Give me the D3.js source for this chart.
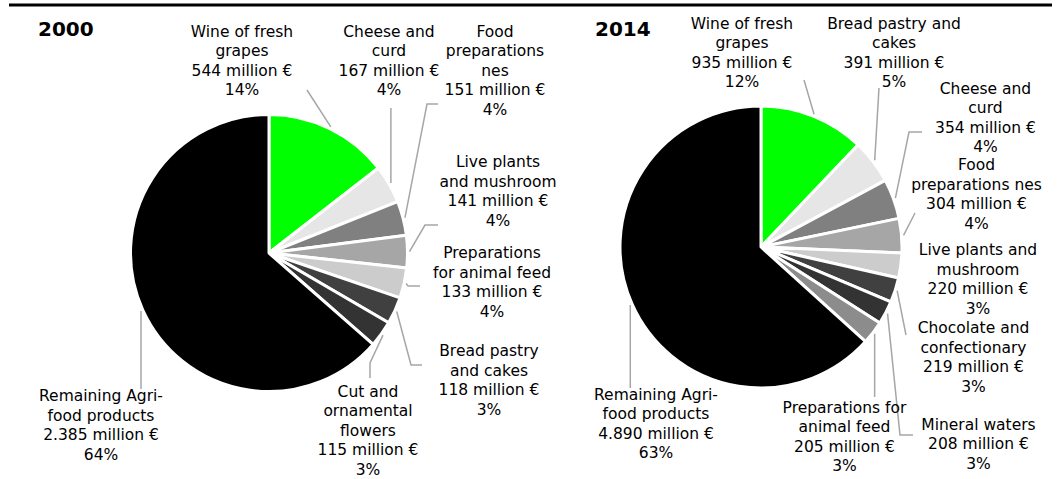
<!DOCTYPE html>
<html>
<head>
<meta charset="utf-8">
<script src="https://cdn.jsdelivr.net/npm/d3@7/dist/d3.min.js"></script>
<style>
  html, body { margin: 0; padding: 0; background: #fff; }
  svg { display: block; }
  text { font-family: Verdana, "DejaVu Sans", sans-serif; fill: #000; }
</style>
</head>
<body>
<svg id="chart" width="1060" height="479"></svg>
<script>
// ---------- DATA ----------
const years = ["2000", "2014"];

const categories2000 = [
  "Wine of fresh\ngrapes",
  "Cheese and\ncurd",
  "Food\npreparations\nnes",
  "Live plants\nand mushroom",
  "Preparations\nfor animal feed",
  "Bread pastry\nand cakes",
  "Cut and\nornamental\nflowers",
  "Remaining Agri-\nfood products"
];
const values2000 = [544, 167, 151, 141, 133, 118, 115, 2385];
const percents2000 = [14, 4, 4, 4, 4, 3, 3, 64];

const categories2014 = [
  "Wine of fresh\ngrapes",
  "Bread pastry and\ncakes",
  "Cheese and\ncurd",
  "Food\npreparations nes",
  "Live plants and\nmushroom",
  "Chocolate and\nconfectionary",
  "Mineral waters",
  "Preparations for\nanimal feed",
  "Remaining Agri-\nfood products"
];
const values2014 = [935, 391, 354, 304, 220, 219, 208, 205, 4890];
const percents2014 = [12, 5, 4, 4, 3, 3, 3, 3, 63];

// ---------- STYLE / LAYOUT ----------
const colors2000 = ["#00ff00", "#e6e6e6", "#808080", "#a6a6a6", "#cccccc", "#404040", "#333333", "#000000"];
const colors2014 = ["#00ff00", "#e6e6e6", "#808080", "#a6a6a6", "#cccccc", "#404040", "#333333", "#8c8c8c", "#000000"];

// label anchor: [centre x, first baseline]; leader: label-side points (null x = follow slice point)
const layout2000 = {
  cx: 269, cy: 253, r: 138.5, titleX: 38,
  labels: [[242, 36.5], [389, 36.5], [495, 36.5], [498, 167], [492, 258], [489, 356], [368, 396.5], [101, 401]],
  leaders: [
    [[307, 90]],
    [[null, 108]],
    [[438, 104], [427, 104]],
    [[438, 225], [425, 225]],
    [[420, 286], [408, 286]],
    [[422, 365], [411, 365]],
    [[370, 378], [370, 363]],
    [[null, 389]]
  ]
};
const layout2014 = {
  cx: 761, cy: 247, r: 141, titleX: 595,
  labels: [[742, 28.5], [894, 28.5], [985.5, 93.5], [976.5, 170], [978, 255], [973.5, 333], [978.5, 429.5], [844.5, 412.5], [656, 399.5]],
  leaders: [
    [[804, 80]],
    [[879, 88]],
    [[922, 132], [909, 132]],
    [[915, 213]],
    null,
    [[906, 335]],
    [[913, 435], [900, 435]],
    [[null, 397]],
    [[null, 388]]
  ]
};

const fontSize = 15.5;
const lineH = 19.5;
const leaderColor = "#a6a6a6";

const locale = d3.formatLocale({ decimal: ",", thousands: ".", grouping: [3], currency: ["", "€"] });
const fmt = locale.format(",");

const svg = d3.select("#chart");

// top rule
svg.append("line")
  .attr("x1", 9).attr("x2", 1052)
  .attr("y1", 5).attr("y2", 5)
  .attr("stroke", "#000").attr("stroke-width", 3);

function drawPie(year, cats, vals, pcts, colors, L) {
  const g = svg.append("g");
  const pie = d3.pie().sort(null).value(d => d)(vals);
  const arc = d3.arc().innerRadius(0).outerRadius(L.r);

  g.append("g").attr("transform", `translate(${L.cx},${L.cy})`)
    .selectAll("path").data(pie).join("path")
    .attr("d", arc)
    .attr("fill", (d, i) => colors[i])
    .attr("stroke", "#fff")
    .attr("stroke-width", 3)
    .attr("stroke-linejoin", "round");

  // leaders
  pie.forEach((d, i) => {
    const spec = L.leaders[i];
    if (!spec) return;
    const a = (d.startAngle + d.endAngle) / 2;
    const rr = L.r + 2;
    const p0 = [L.cx + rr * Math.sin(a), L.cy - rr * Math.cos(a)];
    const pts = spec.map(p => [p[0] === null ? p0[0] : p[0], p[1]]);
    pts.push(p0);
    g.append("path")
      .attr("d", d3.line()(pts))
      .attr("fill", "none")
      .attr("stroke", leaderColor)
      .attr("stroke-width", 1.5);
  });

  // labels
  pie.forEach((d, i) => {
    const lines = cats[i].split("\n").concat([fmt(vals[i]) + " million €", pcts[i] + "%"]);
    const [x, y] = L.labels[i];
    const t = g.append("text")
      .attr("text-anchor", "middle")
      .attr("font-size", fontSize);
    lines.forEach((ln, k) => {
      t.append("tspan").attr("x", x).attr("y", y + k * lineH).text(ln);
    });
  });

  // year title
  g.append("text")
    .attr("x", L.titleX).attr("y", 36)
    .attr("font-size", 20).attr("font-weight", "bold")
    .text(year);
}

drawPie(years[0], categories2000, values2000, percents2000, colors2000, layout2000);
drawPie(years[1], categories2014, values2014, percents2014, colors2014, layout2014);
</script>
</body>
</html>
